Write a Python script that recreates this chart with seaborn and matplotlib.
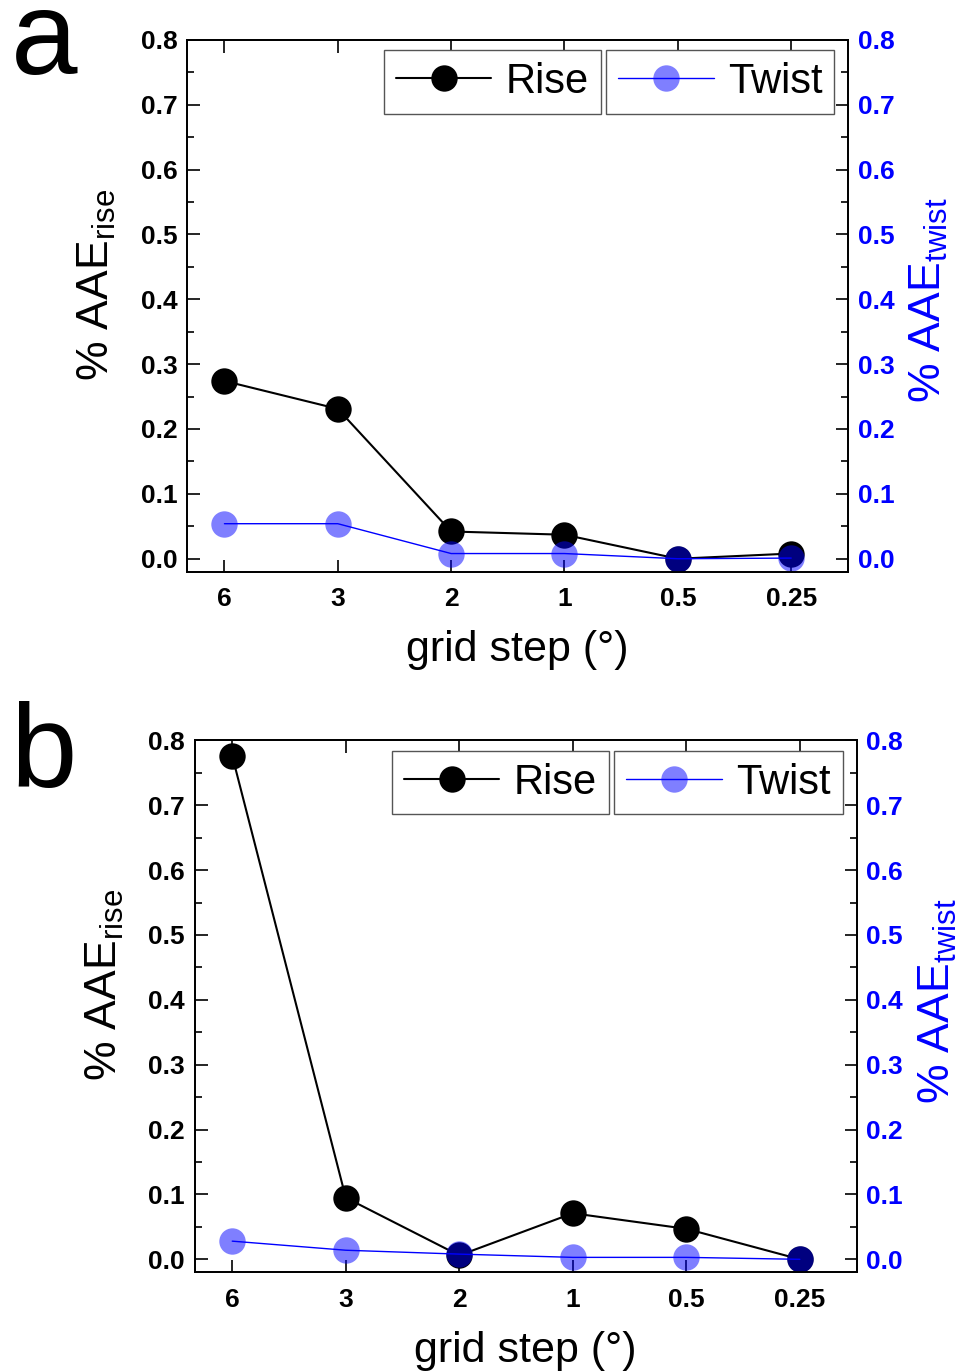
import numpy as np
import pandas as pd
import matplotlib
matplotlib.use("Agg")
import matplotlib.pyplot as plt
import seaborn as sns
from matplotlib.ticker import MultipleLocator

# data
GRID_STEPS = ["6", "3", "2", "1", "0.5", "0.25"]
rise_a = [0.274, 0.231, 0.042, 0.037, 0.000, 0.008]
twist_a = [0.054, 0.054, 0.008, 0.008, 0.000, 0.001]
rise_b = [0.776, 0.095, 0.006, 0.071, 0.047, 0.000]
twist_b = [0.028, 0.014, 0.008, 0.003, 0.003, 0.000]

sns.set_theme(style="white")
plt.rcParams["font.family"] = ["Liberation Sans", "DejaVu Sans"]
plt.rcParams["mathtext.fontset"] = "custom"
plt.rcParams["mathtext.rm"] = "Liberation Sans"
plt.rcParams["mathtext.it"] = "Liberation Sans"
for k in ("text.color", "axes.labelcolor", "xtick.color", "ytick.color"):
    plt.rcParams[k] = "black"

fig = plt.figure(figsize=(9.69, 13.71), dpi=100)
ax_a = fig.add_axes([0.193, 0.583, 0.682, 0.388])
ax_b = fig.add_axes([0.201, 0.072, 0.683, 0.388])

BLUE = "#0000ff"
TWIST_FACE = (0.0, 0.0, 1.0, 0.5)


def draw_panel(ax, rise, twist, letter, letter_y):
    df = pd.DataFrame({"step": GRID_STEPS, "rise": rise, "twist": twist})
    sns.pointplot(data=df, x="step", y="rise", order=GRID_STEPS, color="black",
                  markers="o", markersize=19, linewidth=1.5, markeredgewidth=0,
                  errorbar=None, ax=ax)
    ax2 = ax.twinx()
    sns.pointplot(data=df, x="step", y="twist", order=GRID_STEPS, color=BLUE,
                  markers="o", markersize=19, linewidth=1.0,
                  markerfacecolor=TWIST_FACE, markeredgewidth=0,
                  errorbar=None, ax=ax2)

    for a in (ax, ax2):
        a.set_ylim(-0.02, 0.8)
        a.set_xlim(-0.33, 5.5)
        a.yaxis.set_major_locator(MultipleLocator(0.1))
        a.yaxis.set_minor_locator(MultipleLocator(0.05))
        for s in a.spines.values():
            s.set_linewidth(1.3)
            s.set_color("black")
            s.set_visible(True)
        a.grid(False)
    ax.set_yticklabels([f"{v:.1f}" for v in ax.get_yticks()])
    ax2.set_yticklabels([f"{v:.1f}" for v in ax2.get_yticks()])

    ax.tick_params(axis="y", which="both", direction="in", left=True, right=False,
                   labelsize=19, pad=7)
    ax.tick_params(axis="y", which="major", length=9, width=1.2)
    ax.tick_params(axis="y", which="minor", length=5, width=1.2)
    ax.tick_params(axis="x", which="major", direction="in", top=True, bottom=True,
                   length=9, width=1.2, labelsize=19, pad=11)
    for lab in ax.get_yticklabels() + ax.get_xticklabels():
        lab.set_fontweight("bold")

    ax2.tick_params(axis="y", which="both", direction="in", right=True, left=False,
                    labelsize=19, pad=7, labelcolor=BLUE)
    ax2.tick_params(axis="y", which="major", length=9, width=1.2)
    ax2.tick_params(axis="y", which="minor", length=5, width=1.2)
    for lab in ax2.get_yticklabels():
        lab.set_fontweight("bold")

    ax.set_xlabel("grid step (\u00b0)", fontsize=31, labelpad=14)
    ax.set_ylabel(r"% AAE$_{\mathrm{rise}}$", fontsize=32, labelpad=16)
    ax.yaxis.label.set_y(0.54)
    ax2.set_ylabel(r"% AAE$_{\mathrm{twist}}$", fontsize=32, color=BLUE, labelpad=10)
    ax2.yaxis.label.set_y(0.51)

    rise_line = ax.lines[0]
    twist_line = ax2.lines[0]
    leg_kw = dict(loc="upper left", fontsize=30, frameon=True, fancybox=False,
                  borderpad=0.28, handlelength=2.3, handletextpad=0.35,
                  borderaxespad=0, edgecolor="#555555", framealpha=1)
    leg1 = ax2.legend([rise_line], ["Rise"], bbox_to_anchor=(0.298, 0.98), **leg_kw)
    leg1.get_frame().set_linewidth(1.0)
    ax2.add_artist(leg1)
    leg2 = ax2.legend([twist_line], ["Twist"], bbox_to_anchor=(0.634, 0.98), **leg_kw)
    leg2.get_frame().set_linewidth(1.0)

    fig.text(0.011, letter_y, letter, fontsize=86, va="baseline", ha="left")


draw_panel(ax_a, rise_a, twist_a, "a", 0.946)
draw_panel(ax_b, rise_b, twist_b, "b", 0.426)

fig.savefig("out.png", dpi=100)
